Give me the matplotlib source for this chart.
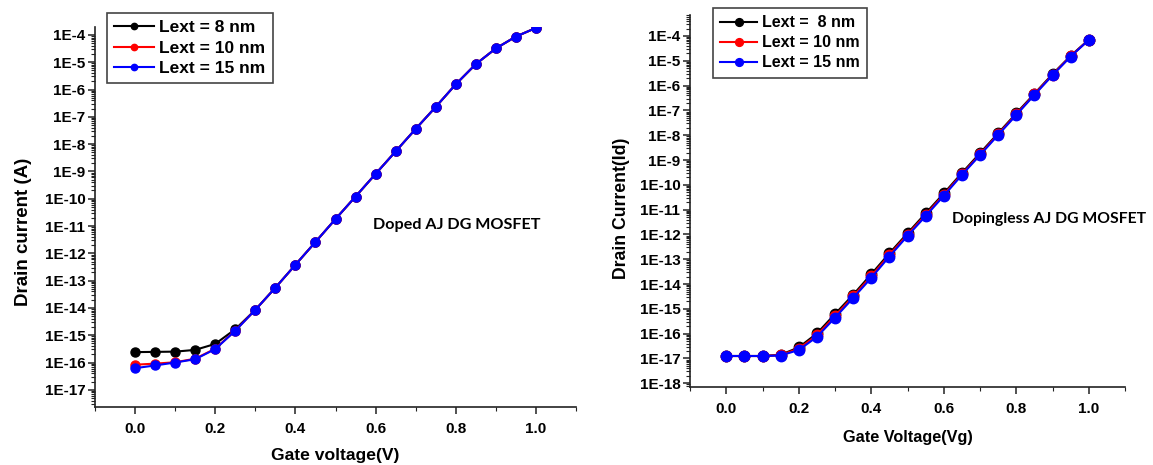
import numpy as np
import matplotlib
matplotlib.use("Agg")
import matplotlib.pyplot as plt
from matplotlib.ticker import LogLocator, MultipleLocator, FuncFormatter, NullFormatter

# ---------------- data ----------------
vg = [0.0, 0.05, 0.10, 0.15, 0.20, 0.25, 0.30, 0.35, 0.40, 0.45, 0.50,
      0.55, 0.60, 0.65, 0.70, 0.75, 0.80, 0.85, 0.90, 0.95, 1.00]

labels_left = ["Lext = 8 nm", "Lext = 10 nm", "Lext = 15 nm"]
labels_right = ["Lext =  8 nm", "Lext = 10 nm", "Lext = 15 nm"]
colors = ["black", "red", "blue"]

# Doped AJ DG MOSFET
doped_8 = [2.4e-16, 2.45e-16, 2.5e-16, 2.9e-16, 4.8e-16, 1.66e-15, 8.5e-15, 5.5e-14,
           3.8e-13, 2.6e-12, 1.8e-11, 1.2e-10, 8.1e-10, 5.4e-9, 3.6e-8, 2.3e-7,
           1.55e-6, 8.5e-6, 3.2e-5, 8.7e-5, 1.8e-4]
doped_10 = [8.3e-17, 9.1e-17, 1.02e-16, 1.38e-16, 3.2e-16, 1.48e-15, 8.5e-15, 5.5e-14,
            3.8e-13, 2.6e-12, 1.8e-11, 1.2e-10, 8.1e-10, 5.4e-9, 3.6e-8, 2.3e-7,
            1.55e-6, 8.5e-6, 3.2e-5, 8.7e-5, 1.8e-4]
doped_15 = [6.2e-17, 7.8e-17, 1.0e-16, 1.32e-16, 3.1e-16, 1.45e-15, 8.5e-15, 5.5e-14,
            3.8e-13, 2.6e-12, 1.8e-11, 1.2e-10, 8.1e-10, 5.4e-9, 3.6e-8, 2.3e-7,
            1.55e-6, 8.5e-6, 3.2e-5, 8.7e-5, 1.8e-4]

# Dopingless AJ DG MOSFET
dl_8 = [1.26e-17, 1.26e-17, 1.26e-17, 1.41e-17, 2.8e-17, 1.02e-16, 6.2e-16, 3.7e-15,
        2.5e-14, 1.74e-13, 1.12e-12, 7.1e-12, 4.5e-11, 3.0e-10, 1.9e-9, 1.2e-8,
        7.6e-8, 4.7e-7, 2.9e-6, 1.58e-5, 7.1e-5]
dl_10 = [1.26e-17, 1.26e-17, 1.26e-17, 1.37e-17, 2.5e-17, 8.7e-17, 5.2e-16, 3.2e-15,
         2.1e-14, 1.5e-13, 9.9e-13, 6.2e-12, 4.0e-11, 2.7e-10, 1.7e-9, 1.1e-8,
         7.0e-8, 4.45e-7, 2.75e-6, 1.53e-5, 7.0e-5]
dl_15 = [1.26e-17, 1.26e-17, 1.26e-17, 1.32e-17, 2.2e-17, 7.4e-17, 4.4e-16, 2.75e-15,
         1.78e-14, 1.29e-13, 8.7e-13, 5.5e-12, 3.6e-11, 2.5e-10, 1.58e-9, 1.02e-8,
         6.5e-8, 4.2e-7, 2.6e-6, 1.48e-5, 6.9e-5]

xticks = [0.0, 0.2, 0.4, 0.6, 0.8, 1.0]

# ---------------- figure ----------------
W, H = 1153, 465
fig = plt.figure(figsize=(W / 100, H / 100), dpi=100)

def px_axes(x0, x1, ytop, ybot):
    return fig.add_axes([x0 / W, 1 - ybot / H, (x1 - x0) / W, (ybot - ytop) / H])

axL = px_axes(95, 576, 27, 407)
axR = px_axes(690, 1125, 15, 386.7)

tickfont = "Liberation Sans"

def efmt(v, pos):
    e = int(round(np.log10(v)))
    return f"1E{e}"

def style(ax, ylim, yexp, fs, ylabel, xlabel, ylfs, xlfs, ylc, xlc):
    ax.set_yscale("log")
    ax.set_xlim(-0.1, 1.1)
    ax.set_ylim(*ylim)
    ax.set_yticks([10.0 ** e for e in yexp])
    ax.yaxis.set_major_formatter(FuncFormatter(efmt))
    ax.yaxis.set_minor_locator(LogLocator(base=10, subs=np.arange(2, 10), numticks=200))
    ax.yaxis.set_minor_formatter(NullFormatter())
    ax.set_xticks(xticks)
    ax.set_xticklabels([f"{t:.1f}" for t in xticks])
    ax.xaxis.set_minor_locator(MultipleLocator(0.1))
    for s in ["top", "right"]:
        ax.spines[s].set_visible(False)
    for s in ["left", "bottom"]:
        ax.spines[s].set_linewidth(1.2)
        ax.spines[s].set_color("#222222")
    ax.tick_params(which="major", direction="out", length=5, width=1.1, color="#222222")
    ax.tick_params(which="minor", direction="out", length=3, width=0.8, color="#222222")
    ax.tick_params(axis="y", which="major", pad=2)
    ax.tick_params(axis="x", which="major", pad=6)
    for lab in ax.get_xticklabels() + ax.get_yticklabels():
        lab.set_fontfamily(tickfont)
        lab.set_fontweight("bold")
        lab.set_fontsize(fs)
    ax.set_ylabel(ylabel, fontfamily=tickfont, fontweight="bold", fontsize=ylfs)
    ax.set_xlabel(xlabel, fontfamily=tickfont, fontweight="bold", fontsize=xlfs)
    ax.yaxis.set_label_coords(*ylc)
    ax.xaxis.set_label_coords(*xlc)

# left panel
for y, c, lab in zip([doped_8, doped_10, doped_15], colors, labels_left):
    axL.plot(vg, y, color=c, marker="o", ms=6.5, lw=1.5, label=lab)
style(axL, (10 ** -17.63, 10 ** -3.71), range(-4, -18, -1), 11,
      "Drain current (A)", "Gate voltage(V)", 13.5, 12.6,
      ((32 - 95) / 481, (407 - 232) / 380), (0.5, (407 - 448) / 380))
legL = axL.legend(loc="upper left", bbox_to_anchor=((107 - 95) / 481, (407 - 13) / 380),
                  frameon=True, fancybox=False, edgecolor="#444444", framealpha=1,
                  prop={"family": tickfont, "weight": "bold", "size": 12.5},
                  handlelength=2.3, handletextpad=0.3, borderpad=0.42, labelspacing=0.3,
                  markerscale=0.7, borderaxespad=0)
legL.get_frame().set_linewidth(1.2)
axL.text(373, H - 225, "Doped AJ DG MOSFET", transform=None, fontfamily="Lato",
         fontweight="bold", fontsize=11.6, va="center", ha="left")

# right panel
for y, c, lab in zip([dl_8, dl_10, dl_15], colors, labels_right):
    axR.plot(vg, y, color=c, marker="o", ms=7.5, lw=1.5, label=lab)
style(axR, (10 ** -18.137, 10 ** -3.154), range(-4, -19, -1), 11,
      "Drain Current(Id)", "Gate Voltage(Vg)", 12.7, 11.7,
      ((630 - 690) / 435, (386.7 - 208) / 371.7), (0.5, (386.7 - 430) / 371.7))
legR = axR.legend(loc="upper left", bbox_to_anchor=((713 - 690) / 435, (386.7 - 8) / 371.7),
                  frameon=True, fancybox=False, edgecolor="#444444", framealpha=1,
                  prop={"family": tickfont, "weight": "bold", "size": 11.5},
                  handlelength=2.3, handletextpad=0.3, borderpad=0.45, labelspacing=0.32,
                  markerscale=0.75, borderaxespad=0)
legR.get_frame().set_linewidth(1.2)
axR.text(952, H - 219, "Dopingless AJ DG MOSFET", transform=None, fontfamily="Lato",
         fontweight="bold", fontsize=11.3, va="center", ha="left")

fig.savefig("out.png", dpi=100)
